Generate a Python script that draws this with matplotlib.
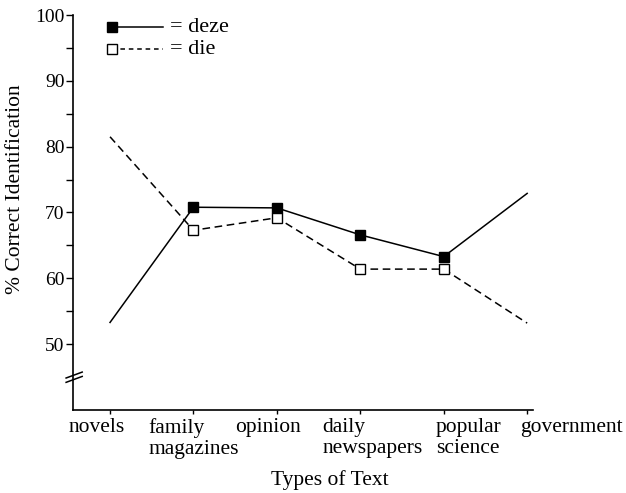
import matplotlib
matplotlib.use("Agg")
import matplotlib.pyplot as plt
import matplotlib.transforms as mtransforms

plt.rcParams['font.family'] = ['Liberation Serif', 'DejaVu Serif']

categories = ["novels", "family\nmagazines", "opinion", "daily\nnewspapers", "popular\nscience", "government"]
deze = [53.3, 70.8, 70.7, 66.6, 63.3, 72.9]
die = [81.5, 67.3, 69.2, 61.4, 61.4, 53.2]
yticks_major = [50, 60, 70, 80, 90, 100]
yticks_minor = [55, 65, 75, 85, 95]
label_offsets_px = [-13, 0, -9, 12, 25, 44]

fig = plt.figure(figsize=(6.26, 4.93), dpi=100)
ax = fig.add_axes([73/626, 1-410/493, 460/626, 395/493])

x = list(range(len(categories)))
ax.plot(x, deze, color='black', lw=1.1, ls='-', marker='s', ms=6.5,
        mfc='black', mec='black', markevery=[1, 2, 3, 4])
ax.plot(x, die, color='black', lw=1.1, ls=(0, (5, 3)), marker='s', ms=6.5,
        mfc='white', mec='black', markevery=[1, 2, 3, 4])

ax.set_xlim(-0.444, 5.07)
ax.set_ylim(40, 100)
ax.spines['top'].set_visible(False)
ax.spines['right'].set_visible(False)
ax.spines['left'].set_linewidth(1.2)
ax.spines['bottom'].set_linewidth(1.2)

ax.set_yticks(yticks_major)
ax.set_yticks(yticks_minor, minor=True)
ax.tick_params(axis='y', which='both', direction='out', length=5, width=1, labelsize=14, pad=1)
ax.set_xticks(x)
ax.set_xticklabels(categories, fontsize=15.5, multialignment='left', linespacing=1.1)
ax.tick_params(axis='x', direction='out', length=3, width=1, pad=3)

for lab, off in zip(ax.get_xticklabels(), label_offsets_px):
    lab.set_transform(lab.get_transform() + mtransforms.ScaledTranslation(off/100, 0, fig.dpi_scale_trans))

ax.set_ylabel("% Correct Identification", fontsize=15.5)
ax.yaxis.set_label_coords(-0.105, 0.56)
ax.set_xlabel("Types of Text", fontsize=15.5)
ax.xaxis.set_label_coords(0.559, -0.152)

# axis break marks
for dy in (0.0, 0.011):
    ax.plot([-0.015, 0.02], [0.07 + dy, 0.085 + dy], color='black', lw=1.1,
            transform=ax.transAxes, clip_on=False)

# legend
ax.plot([0.085, 0.196], [0.969, 0.969], color='black', lw=1.1, transform=ax.transAxes, clip_on=False)
ax.plot([0.085], [0.969], marker='s', ms=6.5, mfc='black', mec='black', transform=ax.transAxes, clip_on=False)
ax.text(0.21, 0.969, "= deze", fontsize=16, va='center', ha='left', transform=ax.transAxes)
ax.plot([0.085, 0.196], [0.913, 0.913], color='black', lw=1.1, ls=(0, (3, 2.5)), transform=ax.transAxes, clip_on=False)
ax.plot([0.085], [0.913], marker='s', ms=6.5, mfc='white', mec='black', transform=ax.transAxes, clip_on=False)
ax.text(0.21, 0.913, "= die", fontsize=16, va='center', ha='left', transform=ax.transAxes)

fig.savefig("out.png", dpi=100)
